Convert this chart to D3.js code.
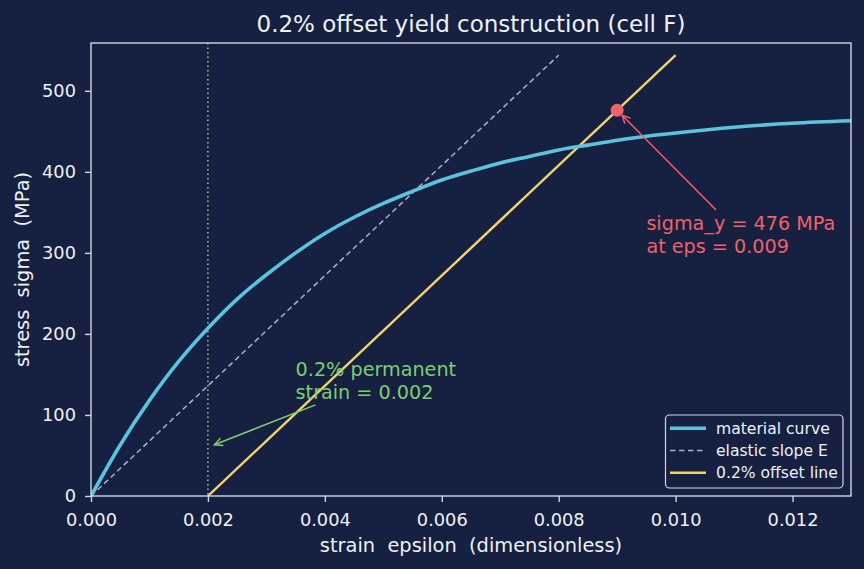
<!DOCTYPE html>
<html>
<head>
<meta charset="utf-8">
<script src="https://cdn.jsdelivr.net/npm/d3@7"></script>
<style>
  html, body { margin: 0; padding: 0; background: #162040; }
  svg text { font-family: "DejaVu Sans", sans-serif; white-space: pre; }
</style>
</head>
<body>
<svg width="864" height="569"></svg>
<script>
// material curve
var strain = [0, 0.0005, 0.001, 0.0015, 0.002, 0.0025, 0.003, 0.0035, 0.004, 0.0045, 0.005, 0.0055,
    0.006, 0.0065, 0.007, 0.0075, 0.008, 0.0085, 0.009, 0.0095, 0.010, 0.011, 0.012, 0.013];
var stress = [0, 63, 118, 166, 207, 243, 273, 300, 324, 344, 361, 376,
    390, 401, 411, 419, 427, 433, 439, 444, 448, 455, 460, 463];

var elasticStrain = [0, 0.008];
var elasticStress = [0, 544];
var offsetStrain = [0.002, 0.010];
var offsetStress = [0, 544];
var permanentStrain = 0.002;
var yieldPoint = [0.009, 476];

var xTicks = [0, 0.002, 0.004, 0.006, 0.008, 0.010, 0.012];
var yTicks = [0, 100, 200, 300, 400, 500];
var legendLabels = ['material curve', 'elastic slope E', '0.2% offset line'];

var bg = '#162040';
var spineColor = '#d0d7e6';
var textColor = '#eef1f7';
var cyan = '#5bc3dc';
var yellow = '#f0d46e';
var dashColor = '#a9b0cc';
var red = '#f0616a';
var green = '#7fcd72';

var svg = d3.select('svg');
var plotLeft = 91, plotRight = 851, plotTop = 43, plotBottom = 496;

var x = d3.scaleLinear().domain([0, 0.013]).range([plotLeft, plotRight]);
var y = d3.scaleLinear().domain([0, 559]).range([plotBottom, plotTop]);

svg.append('rect').attr('width', 864).attr('height', 569).attr('fill', bg);

svg.append('clipPath').attr('id', 'plotClip')
    .append('rect')
    .attr('x', plotLeft).attr('y', plotTop)
    .attr('width', plotRight - plotLeft).attr('height', plotBottom - plotTop);

var plot = svg.append('g').attr('clip-path', 'url(#plotClip)');

function pairs(xs, ys) {
    return xs.map(function(d, i) { return [d, ys[i]]; });
}

var line = d3.line()
    .x(function(d) { return x(d[0]); })
    .y(function(d) { return y(d[1]); });

// dotted marker of the permanent strain
plot.append('line')
    .attr('x1', x(permanentStrain)).attr('x2', x(permanentStrain))
    .attr('y1', plotTop).attr('y2', plotBottom)
    .attr('stroke', '#b4dfb0')
    .attr('stroke-width', 1.3)
    .attr('stroke-dasharray', '1.5,3');

plot.append('path')
    .datum(pairs(elasticStrain, elasticStress))
    .attr('d', line)
    .attr('fill', 'none')
    .attr('stroke', dashColor)
    .attr('stroke-width', 1.5)
    .attr('stroke-dasharray', '5.5,3.5');

plot.append('path')
    .datum(pairs(offsetStrain, offsetStress))
    .attr('d', line)
    .attr('fill', 'none')
    .attr('stroke', yellow)
    .attr('stroke-width', 2.4);

plot.append('path')
    .datum(pairs(strain, stress))
    .attr('d', line.curve(d3.curveNatural))
    .attr('fill', 'none')
    .attr('stroke', cyan)
    .attr('stroke-width', 3.6);

svg.append('circle')
    .attr('cx', x(yieldPoint[0]))
    .attr('cy', y(yieldPoint[1]))
    .attr('r', 6.5)
    .attr('fill', red);

// axes
var xAxis = svg.append('g')
    .attr('transform', 'translate(0,' + plotBottom + ')')
    .call(d3.axisBottom(x).tickValues(xTicks).tickFormat(d3.format('.3f')).tickSize(6).tickPadding(11));
var yAxis = svg.append('g')
    .attr('transform', 'translate(' + plotLeft + ',0)')
    .call(d3.axisLeft(y).tickValues(yTicks).tickSize(6).tickPadding(9));

[xAxis, yAxis].forEach(function(a) {
    a.select('.domain').remove();
    a.selectAll('line').attr('stroke', spineColor).attr('stroke-width', 1.4);
    a.selectAll('text')
        .attr('fill', textColor)
        .style('font-size', '17.8px')
        .style('font-family', '"DejaVu Sans", sans-serif');
});

svg.append('rect')
    .attr('x', plotLeft).attr('y', plotTop)
    .attr('width', plotRight - plotLeft).attr('height', plotBottom - plotTop)
    .attr('fill', 'none')
    .attr('stroke', spineColor)
    .attr('stroke-width', 1.4);

svg.append('text')
    .attr('x', (plotLeft + plotRight) / 2).attr('y', 32)
    .attr('text-anchor', 'middle')
    .attr('fill', textColor)
    .style('font-size', '23px')
    .text('0.2% offset yield construction (cell F)');

svg.append('text')
    .attr('x', (plotLeft + plotRight) / 2).attr('y', 552)
    .attr('text-anchor', 'middle')
    .attr('fill', textColor)
    .style('font-size', '19.4px')
    .text('strain  epsilon  (dimensionless)');

svg.append('text')
    .attr('transform', 'translate(29,' + (plotTop + plotBottom) / 2 + ') rotate(-90)')
    .attr('text-anchor', 'middle')
    .attr('fill', textColor)
    .style('font-size', '19.4px')
    .text('stress  sigma  (MPa)');

// annotations with arrows
function annotate(lines, textAt, target, color) {
    var tx = x(textAt[0]), ty = y(textAt[1]);
    var lineGap = 22.7;
    var t = svg.append('text')
        .attr('fill', color)
        .style('font-size', '19.2px');
    lines.forEach(function(s, i) {
        t.append('tspan')
            .attr('x', tx)
            .attr('y', ty - (lines.length - 1 - i) * lineGap)
            .text(s);
    });
    var b = t.node().getBBox();
    var cx = b.x + b.width / 2, cy = b.y + b.height / 2;
    var px = x(target[0]), py = y(target[1]);
    var dx = px - cx, dy = py - cy;
    var len = Math.sqrt(dx * dx + dy * dy);
    var ux = dx / len, uy = dy / len;
    // leave the text box
    var s1 = Math.abs(ux) > 1e-9 ? (b.width / 2) / Math.abs(ux) : Infinity;
    var s2 = Math.abs(uy) > 1e-9 ? (b.height / 2) / Math.abs(uy) : Infinity;
    var out = Math.min(s1, s2) + 3;
    var sx = cx + ux * out, sy = cy + uy * out;
    var ex = px - ux * 7, ey = py - uy * 7;
    var g = svg.append('g')
        .attr('stroke', color)
        .attr('stroke-width', 1.5)
        .attr('fill', 'none');
    g.append('line').attr('x1', sx).attr('y1', sy).attr('x2', ex).attr('y2', ey);
    var hl = 8, hw = 4;
    var bx = ex - ux * hl, by = ey - uy * hl;
    g.append('path')
        .attr('d', 'M' + (bx - uy * hw) + ',' + (by + ux * hw) +
            'L' + ex + ',' + ey +
            'L' + (bx + uy * hw) + ',' + (by - ux * hw));
}

annotate(['sigma_y = 476 MPa', 'at eps = 0.009'], [0.0095, 300], yieldPoint, red);
annotate(['0.2% permanent', 'strain = 0.002'], [0.0035, 120], [permanentStrain, 60], green);

// legend
var legend = svg.append('g');
legend.append('rect')
    .attr('x', 665.5).attr('y', 415)
    .attr('width', 177.5).attr('height', 73)
    .attr('rx', 4)
    .attr('fill', bg)
    .attr('fill-opacity', 0.9)
    .attr('stroke', spineColor)
    .attr('stroke-width', 1.2);

var legendStyles = [
    { color: cyan, width: 3.6, dash: null },
    { color: dashColor, width: 1.5, dash: '5.5,3.5' },
    { color: yellow, width: 2.4, dash: null }
];
legendLabels.forEach(function(label, i) {
    var ry = 428.3 + i * 22.2;
    legend.append('line')
        .attr('x1', 670).attr('x2', 706)
        .attr('y1', ry).attr('y2', ry)
        .attr('stroke', legendStyles[i].color)
        .attr('stroke-width', legendStyles[i].width)
        .attr('stroke-dasharray', legendStyles[i].dash);
    legend.append('text')
        .attr('x', 716).attr('y', ry)
        .attr('dy', '0.36em')
        .attr('fill', textColor)
        .style('font-size', '15.6px')
        .text(label);
});
</script>
</body>
</html>
